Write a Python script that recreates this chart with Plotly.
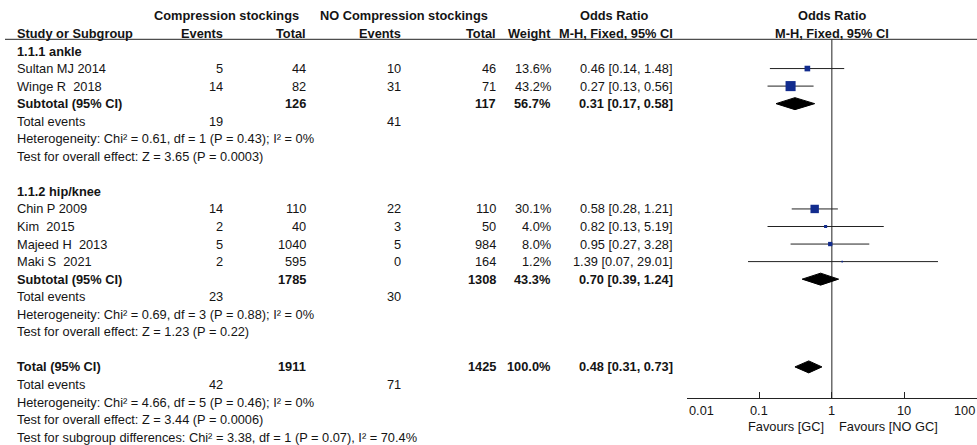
import math
import plotly.graph_objects as go

# ---------------- data ----------------
study_names = ["Sultan MJ 2014", "Winge R\u00a0 2018", "Chin P 2009", "Kim\u00a0 2015",
               "Majeed H\u00a0 2013", "Maki S\u00a0 2021"]
study_group = [0, 0, 1, 1, 1, 1]
cs_events = [5, 14, 14, 2, 5, 2]
cs_total = [44, 82, 110, 40, 1040, 595]
no_events = [10, 31, 22, 3, 5, 0]
no_total = [46, 71, 110, 50, 984, 164]
weight_pct = [13.6, 43.2, 30.1, 4.0, 8.0, 1.2]
or_est = [0.46, 0.27, 0.58, 0.82, 0.95, 1.39]
or_low = [0.14, 0.13, 0.28, 0.13, 0.27, 0.07]
or_high = [1.48, 0.56, 1.21, 5.19, 3.28, 29.01]

group_labels = ["1.1.1 ankle", "1.1.2 hip/knee"]
sub_cs_total = [126, 1785]
sub_no_total = [117, 1308]
sub_cs_events = [19, 23]
sub_no_events = [41, 30]
sub_weight = [56.7, 43.3]
sub_or = [0.31, 0.70]
sub_low = [0.17, 0.39]
sub_high = [0.58, 1.24]
sub_het = ["Heterogeneity: Chi\u00b2 = 0.61, df = 1 (P = 0.43); I\u00b2 = 0%",
           "Heterogeneity: Chi\u00b2 = 0.69, df = 3 (P = 0.88); I\u00b2 = 0%"]
sub_test = ["Test for overall effect: Z = 3.65 (P = 0.0003)",
            "Test for overall effect: Z = 1.23 (P = 0.22)"]

tot_cs_total = 1911
tot_no_total = 1425
tot_cs_events = 42
tot_no_events = 71
tot_weight = 100.0
tot_or = 0.48
tot_low = 0.31
tot_high = 0.73
tot_het = "Heterogeneity: Chi\u00b2 = 4.66, df = 5 (P = 0.46); I\u00b2 = 0%"
tot_test = "Test for overall effect: Z = 3.44 (P = 0.0006)"
subgroup_test = "Test for subgroup differences: Chi\u00b2 = 3.38, df = 1 (P = 0.07), I\u00b2 = 70.4%"

axis_ticks = [0.01, 0.1, 1, 10, 100]
axis_tick_labels = ["0.01", "0.1", "1", "10", "100"]
favours_left = "Favours [GC]"
favours_right = "Favours [NO GC]"

# ---------------- layout constants ----------------
W, H = 977, 445
ROW0_PX = 51.0
ROW_PX = 17.55


def px2row(p):
    return (p - ROW0_PX) / ROW_PX


TXT = "#141414"
LINE = "#222222"
FONT = "Arial, 'Liberation Sans', sans-serif"
FS = 12.8

X_STUDY = 15
X_CS_EV = 225
X_CS_TOT = 308
X_NO_EV = 403
X_NO_TOT = 498
X_WEIGHT = 553
X_OR = 675

annotations = []


def txt(x, row, s, anchor="left", bold=False, ref="x", xshift=0):
    annotations.append(dict(
        x=x, y=row, xref=ref, yref="y", text=("<b>%s</b>" % s) if bold else s,
        showarrow=False, xanchor=anchor, yanchor="middle", xshift=xshift,
        font=dict(family=FONT, size=FS, color=TXT)))


def ci_text(e, lo, hi):
    return "%.2f [%.2f, %.2f]" % (e, lo, hi)


# headers
r_h1, r_h2 = -2, -1
txt(226, r_h1, "Compression stockings", "center", True)
txt(404, r_h1, "NO Compression stockings", "center", True)
txt(614, r_h1, "Odds Ratio", "center", True)
txt(0, r_h1, "Odds Ratio", "center", True, ref="x2")
txt(X_STUDY, r_h2, "Study or Subgroup", "left", True)
txt(X_CS_EV, r_h2, "Events", "right", True)
txt(X_CS_TOT, r_h2, "Total", "right", True)
txt(X_NO_EV, r_h2, "Events", "right", True)
txt(X_NO_TOT, r_h2, "Total", "right", True)
txt(X_WEIGHT, r_h2, "Weight", "right", True)
txt(X_OR, r_h2, "M-H, Fixed, 95% CI", "right", True)
txt(0, r_h2, "M-H, Fixed, 95% CI", "center", True, ref="x2")

study_rows = []
sub_rows = []
row = 0
for g in range(len(group_labels)):
    txt(X_STUDY, row, group_labels[g], bold=True)
    row += 1
    for i in range(len(study_names)):
        if study_group[i] != g:
            continue
        study_rows.append(row)
        txt(X_STUDY, row, study_names[i])
        txt(X_CS_EV, row, str(cs_events[i]), "right")
        txt(X_CS_TOT, row, str(cs_total[i]), "right")
        txt(X_NO_EV, row, str(no_events[i]), "right")
        txt(X_NO_TOT, row, str(no_total[i]), "right")
        txt(X_WEIGHT, row, "%.1f%%" % weight_pct[i], "right")
        txt(X_OR, row, ci_text(or_est[i], or_low[i], or_high[i]), "right")
        row += 1
    sub_rows.append(row)
    txt(X_STUDY, row, "Subtotal (95% CI)", bold=True)
    txt(X_CS_TOT, row, str(sub_cs_total[g]), "right", True)
    txt(X_NO_TOT, row, str(sub_no_total[g]), "right", True)
    txt(X_WEIGHT, row, "%.1f%%" % sub_weight[g], "right", True)
    txt(X_OR, row, ci_text(sub_or[g], sub_low[g], sub_high[g]), "right", True)
    row += 1
    txt(X_STUDY, row, "Total events")
    txt(X_CS_EV, row, str(sub_cs_events[g]), "right")
    txt(X_NO_EV, row, str(sub_no_events[g]), "right")
    row += 1
    txt(X_STUDY, row, sub_het[g])
    row += 1
    txt(X_STUDY, row, sub_test[g])
    row += 2

tot_row = row
txt(X_STUDY, row, "Total (95% CI)", bold=True)
txt(X_CS_TOT, row, str(tot_cs_total), "right", True)
txt(X_NO_TOT, row, str(tot_no_total), "right", True)
txt(X_WEIGHT, row, "%.1f%%" % tot_weight, "right", True)
txt(X_OR, row, ci_text(tot_or, tot_low, tot_high), "right", True)
row += 1
txt(X_STUDY, row, "Total events")
txt(X_CS_EV, row, str(tot_cs_events), "right")
txt(X_NO_EV, row, str(tot_no_events), "right")
row += 1
txt(X_STUDY, row, tot_het)
row += 1
txt(X_STUDY, row, tot_test)
row += 1
txt(X_STUDY, row, subgroup_test)

# forest axis geometry
AXIS_PX = 398
axis_row = px2row(AXIS_PX)
header_line_row = px2row(39.3)
tick_row = px2row(410)
fav_row = px2row(426)

for v, lab in zip(axis_ticks, axis_tick_labels):
    anchor = "center"
    if v == axis_ticks[0]:
        anchor = "left"
    elif v == axis_ticks[-1]:
        anchor = "right"
    txt(math.log10(v), tick_row, lab, anchor, ref="x2")
txt(0, fav_row, favours_left, "right", ref="x2", xshift=-6)
txt(0, fav_row, favours_right, "left", ref="x2", xshift=5)

# ---------------- traces ----------------
fig = go.Figure()

# reference line at OR = 1
fig.add_trace(go.Scatter(x=[1, 1], y=[header_line_row, axis_row], xaxis="x2", yaxis="y",
                         mode="lines", line=dict(color=LINE, width=1),
                         hoverinfo="skip", showlegend=False))

# CI whiskers
cx, cy = [], []
for lo, hi, r in zip(or_low, or_high, study_rows):
    cx += [lo, hi, None]
    cy += [r, r, None]
fig.add_trace(go.Scatter(x=cx, y=cy, xaxis="x2", yaxis="y", mode="lines",
                         line=dict(color=LINE, width=1), hoverinfo="skip",
                         showlegend=False))

# weighted squares
sizes = [1.53 * math.sqrt(w) for w in weight_pct]
fig.add_trace(go.Scatter(x=or_est, y=study_rows, xaxis="x2", yaxis="y", mode="markers",
                         marker=dict(symbol="square", size=sizes, color="#122c8e",
                                     opacity=1, line=dict(width=0)),
                         showlegend=False))

# diamonds
DH = 6.0 / ROW_PX
for e, lo, hi, r in list(zip(sub_or, sub_low, sub_high, sub_rows)) + [(tot_or, tot_low, tot_high, tot_row)]:
    fig.add_trace(go.Scatter(x=[lo, e, hi, e, lo], y=[r, r - DH, r, r + DH, r],
                             xaxis="x2", yaxis="y", mode="lines", fill="toself",
                             fillcolor="#000000", line=dict(color="#000000", width=1),
                             hoverinfo="skip", showlegend=False))

shapes = [dict(type="line", xref="paper", yref="y", x0=5 / W, x1=1.0,
               y0=header_line_row, y1=header_line_row,
               line=dict(color=LINE, width=1))]

fig.update_layout(
    width=W, height=H, margin=dict(l=0, r=0, t=0, b=0),
    paper_bgcolor="white", plot_bgcolor="white", showlegend=False,
    xaxis=dict(domain=[0, 1], range=[0, W], visible=False, fixedrange=True),
    xaxis2=dict(domain=[686.7 / W, 1.0], type="log", range=[-2, 2], anchor="free",
                position=1 - AXIS_PX / H, showline=True, linecolor=LINE, linewidth=1,
                ticks="inside", ticklen=6, tickwidth=1, tickcolor=LINE,
                tickvals=axis_ticks, showticklabels=False, showgrid=False, zeroline=False,
                fixedrange=True),
    yaxis=dict(domain=[0, 1], range=[px2row(H), px2row(0)], visible=False, fixedrange=True),
    annotations=annotations, shapes=shapes,
)

fig.write_html(
    "out.html",
    config={"displayModeBar": False},
    post_script="document.body.style.margin='0';document.body.style.overflow='hidden';",
)
